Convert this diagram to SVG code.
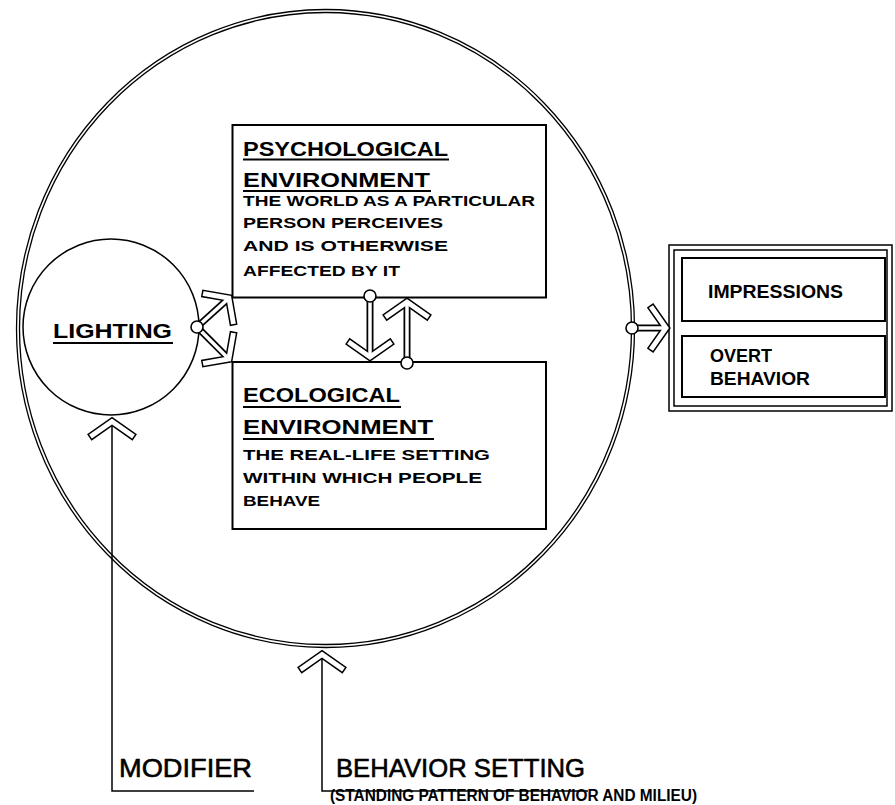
<svg xmlns="http://www.w3.org/2000/svg" xmlns:xlink="http://www.w3.org/1999/xlink" width="895" height="805" viewBox="0 0 895 805">
<style>
  .ln{fill:none;stroke:#000;stroke-width:1.5}
  .box{fill:#fff;stroke:#000;stroke-width:2}
  .ring{fill:none;stroke:#000;stroke-width:1.3}
  .chev{fill:#fff;stroke:#000;stroke-width:1.5;stroke-linejoin:miter}
  .shaftB{stroke:#000;stroke-width:7;fill:none}
  .shaftW{stroke:#fff;stroke-width:3.5;fill:none}
  .dot{fill:#fff;stroke:#000;stroke-width:1.6}
  .ul{stroke:#000;stroke-width:2.2}
  text{font-family:"Liberation Sans",Arial,sans-serif;fill:#000}
  .hd{font-size:21px;font-weight:bold}
  .bd{font-size:15px;font-weight:bold}
  .ob{font-size:18px;font-weight:bold}
  .lb{font-size:26px;font-weight:normal;stroke:#000;stroke-width:0.6}
  .cap{font-size:16px;font-weight:bold}
</style>
<defs>
  <polygon id="chev" class="chev" points="3.9,0 -12.9,23.9 -18.1,20.3 -3.9,0 -18.1,-20.3 -12.9,-23.9"/>
</defs>

<g id="behavior-setting-circle">
  <ellipse class="ring" cx="325.5" cy="328.5" rx="309" ry="319"/>
  <ellipse class="ring" cx="325.5" cy="328.5" rx="306" ry="316"/>
</g>

<g id="lighting">
  <circle class="ln" cx="111" cy="327" r="88"/>
  <text class="hd" x="53" y="338" textLength="119" lengthAdjust="spacingAndGlyphs">LIGHTING</text>
  <line class="ul" x1="53" y1="343" x2="173" y2="343"/>
</g>

<g id="psychological-environment">
  <rect class="box" x="232.5" y="125" width="313.5" height="172.5"/>
  <text class="hd" x="243" y="156" textLength="205" lengthAdjust="spacingAndGlyphs">PSYCHOLOGICAL</text>
  <line class="ul" x1="243" y1="159.5" x2="449" y2="159.5"/>
  <text class="hd" x="243" y="187" textLength="187" lengthAdjust="spacingAndGlyphs">ENVIRONMENT</text>
  <line class="ul" x1="243" y1="191" x2="431" y2="191"/>
  <text class="bd" x="243" y="206" textLength="292" lengthAdjust="spacingAndGlyphs">THE WORLD AS A PARTICULAR</text>
  <text class="bd" x="243" y="228" textLength="200" lengthAdjust="spacingAndGlyphs">PERSON  PERCEIVES</text>
  <text class="bd" x="243" y="251" textLength="205" lengthAdjust="spacingAndGlyphs">AND IS OTHERWISE</text>
  <text class="bd" x="243" y="276" textLength="157" lengthAdjust="spacingAndGlyphs">AFFECTED BY IT</text>
</g>

<g id="ecological-environment">
  <rect class="box" x="232.5" y="362" width="313.5" height="167"/>
  <text class="hd" x="243" y="402" textLength="157" lengthAdjust="spacingAndGlyphs">ECOLOGICAL</text>
  <line class="ul" x1="243" y1="407" x2="401" y2="407"/>
  <text class="hd" x="243" y="434" textLength="190" lengthAdjust="spacingAndGlyphs">ENVIRONMENT</text>
  <line class="ul" x1="243" y1="439" x2="434" y2="439"/>
  <text class="bd" x="243" y="460" textLength="247" lengthAdjust="spacingAndGlyphs">THE REAL-LIFE SETTING</text>
  <text class="bd" x="243" y="483" textLength="239" lengthAdjust="spacingAndGlyphs">WITHIN WHICH PEOPLE</text>
  <text class="bd" x="243" y="506" textLength="77" lengthAdjust="spacingAndGlyphs">BEHAVE</text>
</g>

<g id="outcomes">
  <rect class="ln" x="669" y="245" width="223" height="166"/>
  <rect class="ln" x="674" y="250" width="213" height="156"/>
  <rect class="box" x="682" y="258" width="203" height="63" stroke-width="1.8"/>
  <text class="ob" x="708" y="298" textLength="135" lengthAdjust="spacingAndGlyphs">IMPRESSIONS</text>
  <rect class="box" x="682" y="336" width="203" height="61" stroke-width="1.8"/>
  <text class="ob" x="710" y="362" textLength="62" lengthAdjust="spacingAndGlyphs">OVERT</text>
  <text class="ob" x="710" y="385" textLength="100" lengthAdjust="spacingAndGlyphs">BEHAVIOR</text>
</g>

<g id="modifier-label">
  <text class="lb" x="119" y="777" textLength="133" lengthAdjust="spacingAndGlyphs">MODIFIER</text>
</g>

<g id="behavior-setting-label">
  <text class="lb" x="336" y="777" textLength="249" lengthAdjust="spacingAndGlyphs">BEHAVIOR  SETTING</text>
  <text class="cap" x="330" y="801" textLength="367" lengthAdjust="spacingAndGlyphs">(STANDING  PATTERN OF BEHAVIOR AND MILIEU)</text>
</g>

<g id="connectors">
  <polyline class="ln" points="112,421 112,791 254,791"/>
  <use xlink:href="#chev" href="#chev" transform="translate(112,421.5) rotate(-90)"/>
  <polyline class="ln" points="322,655 322,791 588,791"/>
  <use xlink:href="#chev" href="#chev" transform="translate(322,654.5) rotate(-90)"/>

  <line class="shaftB" x1="197" y1="327" x2="228.9" y2="298.1"/>
  <line class="shaftB" x1="197" y1="327" x2="228.9" y2="358.9"/>
  <line class="shaftB" x1="370" y1="297" x2="370" y2="357"/>
  <line class="shaftB" x1="407" y1="362" x2="407" y2="302"/>
  <line class="shaftB" x1="633" y1="328" x2="666" y2="328"/>
  <use xlink:href="#chev" href="#chev" transform="translate(228.9,298.1) rotate(-45)"/>
  <use xlink:href="#chev" href="#chev" transform="translate(228.9,358.9) rotate(45)"/>
  <use xlink:href="#chev" href="#chev" transform="translate(370,357) rotate(90)"/>
  <use xlink:href="#chev" href="#chev" transform="translate(407,302) rotate(-90)"/>
  <use xlink:href="#chev" href="#chev" transform="translate(666,328) rotate(0)"/>
  <line class="shaftW" x1="197" y1="327" x2="228.9" y2="298.1"/>
  <line class="shaftW" x1="197" y1="327" x2="228.9" y2="358.9"/>
  <line class="shaftW" x1="370" y1="297" x2="370" y2="357"/>
  <line class="shaftW" x1="407" y1="362" x2="407" y2="302"/>
  <line class="shaftW" x1="633" y1="328" x2="666" y2="328"/>
  <circle class="dot" cx="197" cy="327" r="6"/>
  <circle class="dot" cx="370" cy="296" r="6"/>
  <circle class="dot" cx="407" cy="363" r="6"/>
  <circle class="dot" cx="632" cy="328" r="6"/>
</g>
</svg>
